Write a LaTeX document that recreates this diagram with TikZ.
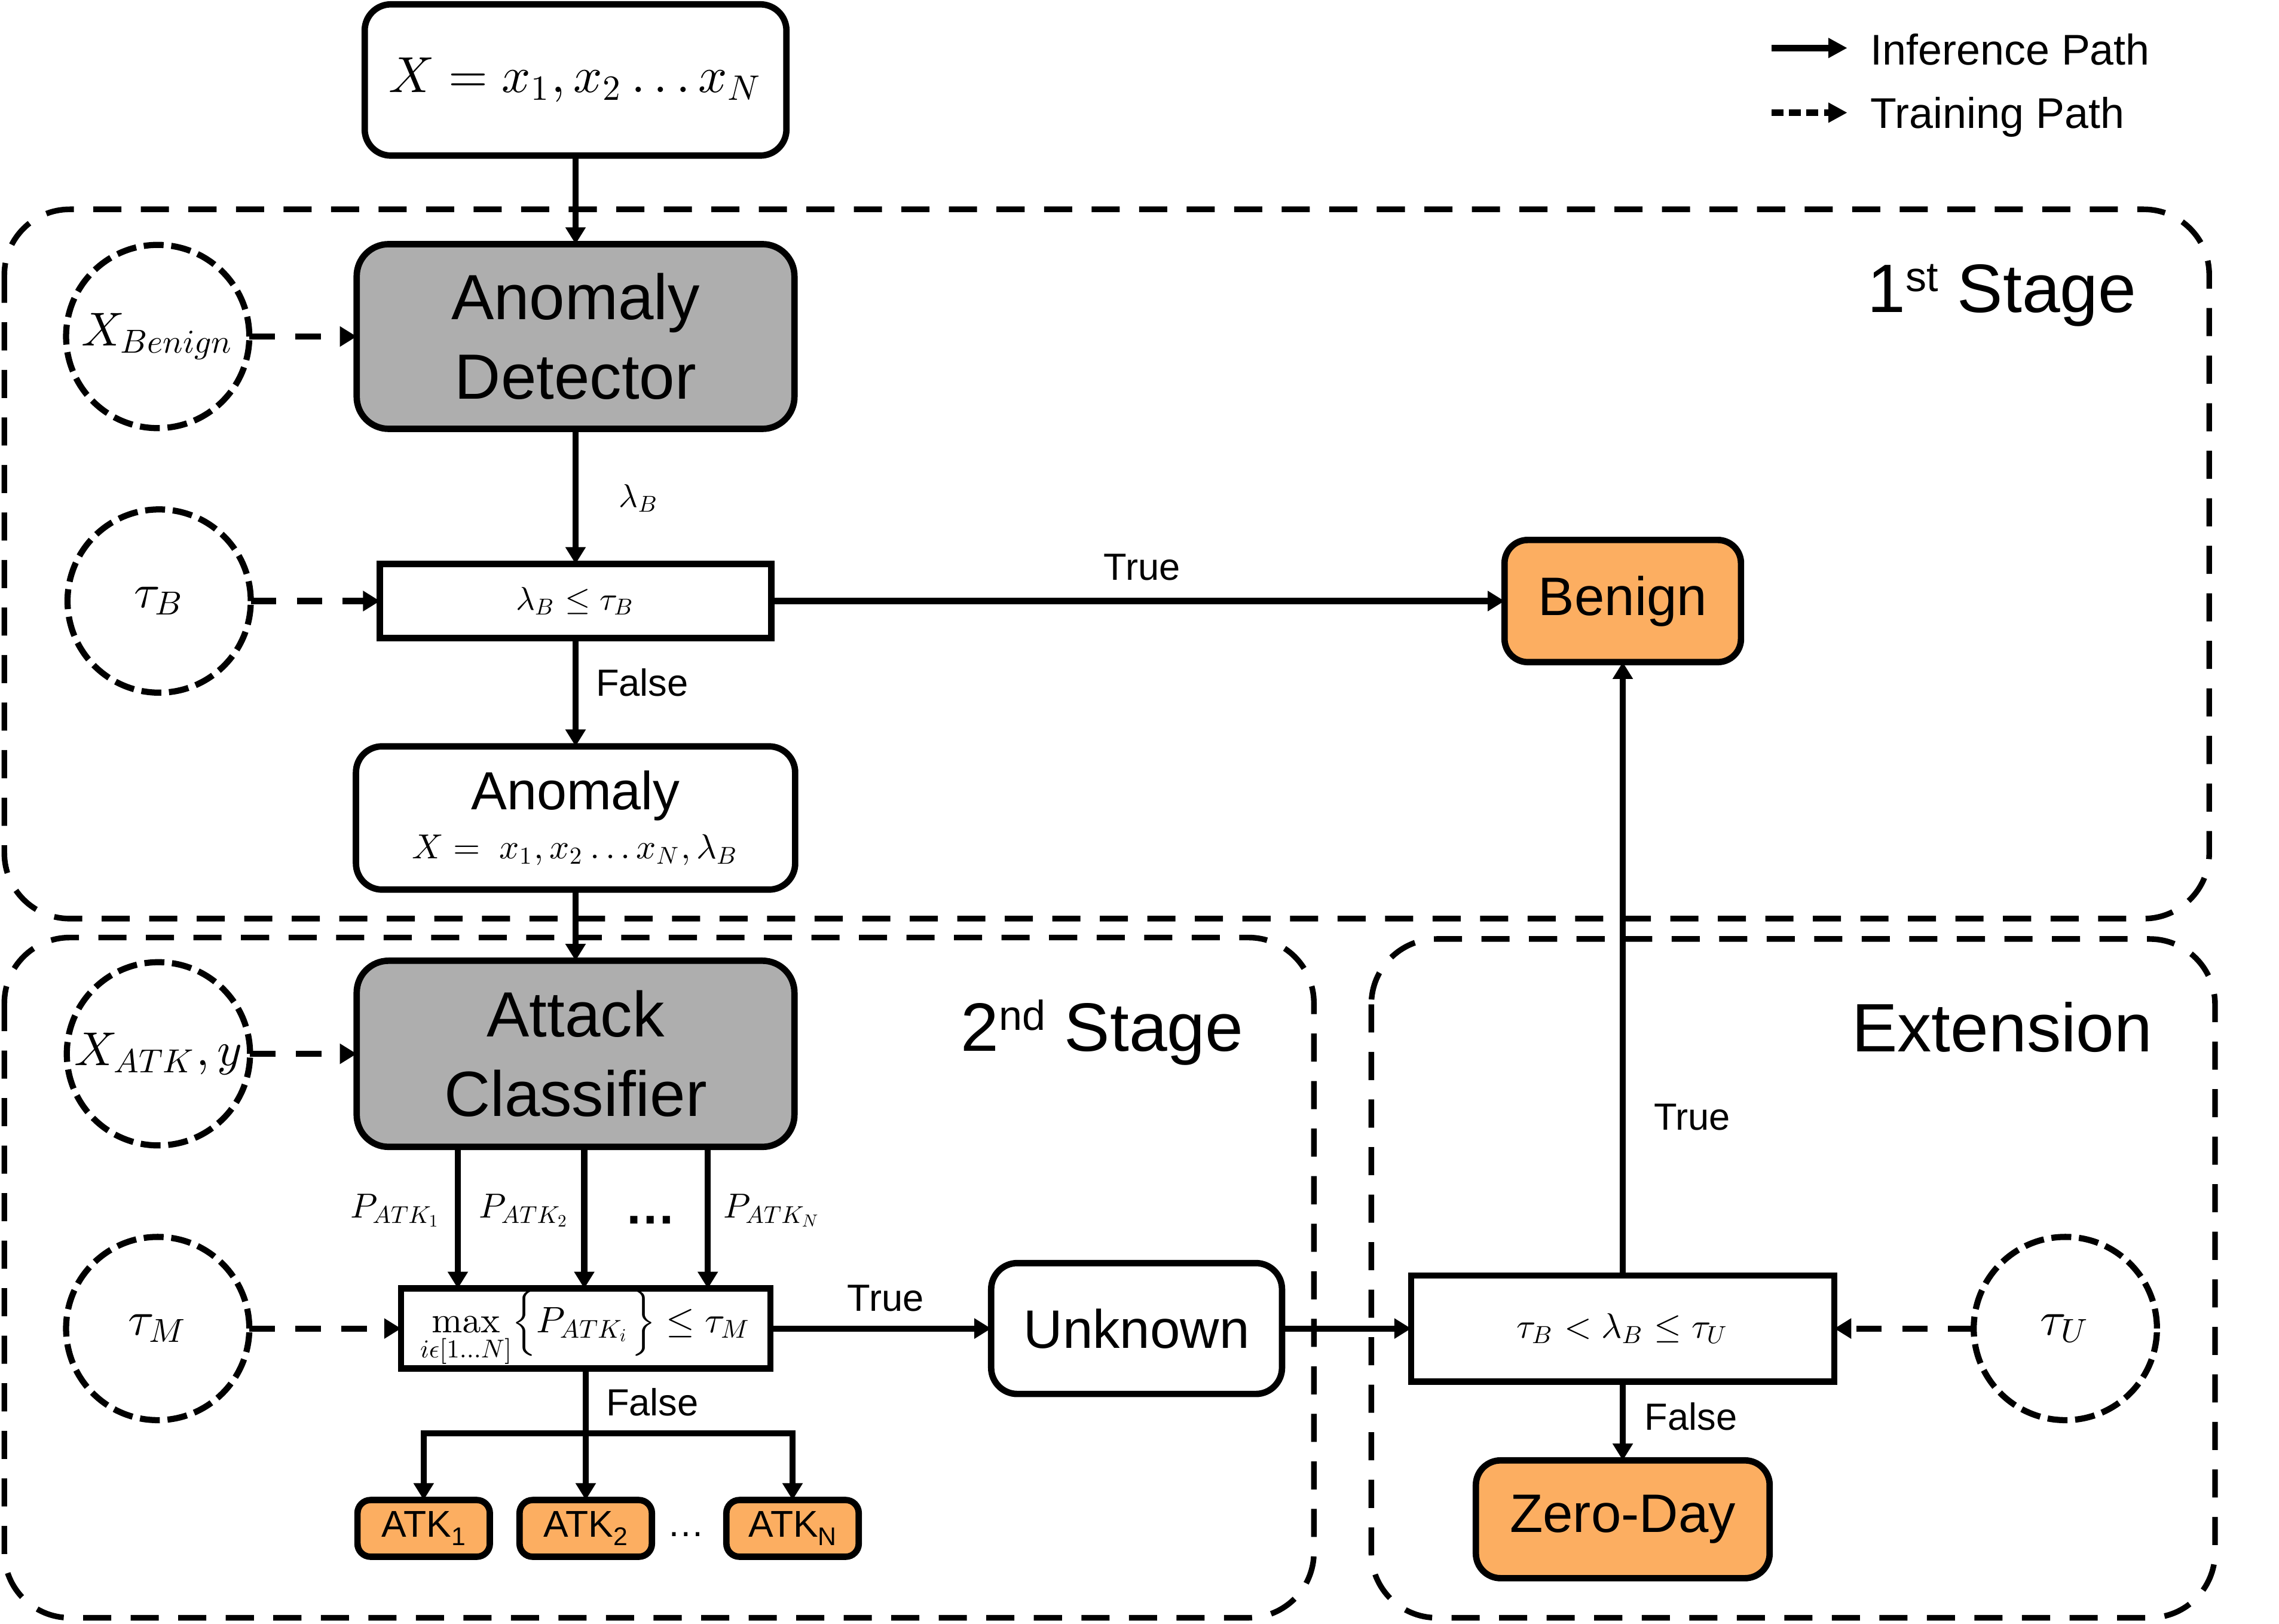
\documentclass[tikz,border=0pt]{standalone}
\usepackage[no-math]{fontspec}
\setmainfont{Liberation Sans}
\DeclareFontShape{OML}{cmm}{m}{it}{<->cmmi10}{}
\DeclareFontShape{OMS}{cmsy}{m}{n}{<->cmsy10}{}
\DeclareFontShape{OT1}{cmr}{m}{n}{<->cmr10}{}
\DeclareFontShape{OMX}{cmex}{m}{n}{<->cmex10}{}
\usetikzlibrary{arrows.meta}
\definecolor{boxgray}{RGB}{174,174,174}
\definecolor{boxorange}{RGB}{252,174,97}
\begin{document}
\begin{tikzpicture}[x=0.01cm, y=-0.01cm,
  every node/.style={inner sep=0pt, outer sep=0pt},
  box/.style={draw, line width=1.25pt, align=center},
  rbox/.style={box, rounded corners=#1},
  grp/.style={draw, line width=1.1pt, dash pattern=on 5.5pt off 3.8pt, rounded corners=0.45cm},
  circ/.style={circle, draw, line width=1.2pt, dash pattern=on 3.9pt off 1.5pt, minimum size=1.26cm, font=\fontsize{9.3}{11}\selectfont},
  arr/.style={line width=1.2pt, -{Triangle[length=3.3pt,width=3.8pt]}},
  plain/.style={line width=1.2pt},
  tarr/.style={arr, dash pattern=on 5pt off 4pt},
  lab/.style={anchor=base west, font=\fontsize{7.4}{9}\selectfont},
  big/.style={font=\fontsize{12.5}{15.6}\selectfont},
  mid/.style={font=\fontsize{10.6}{12}\selectfont},
  stage/.style={anchor=base west, font=\fontsize{13.4}{16}\selectfont},
  atk/.style={rbox=0.09cm, fill=boxorange, minimum width=0.91cm, minimum height=0.39cm, font=\fontsize{7.3}{8}\selectfont},
  leg/.style={line width=1.35pt, -{Triangle[length=3.7pt,width=3.7pt]}},
  legtxt/.style={anchor=base west, font=\fontsize{8.4}{10}\selectfont}
]
\useasboundingbox (0,0) rectangle (1568,1117);

% groups
\draw[grp] (3,144) rectangle (1520,632);
\draw[grp] (3,645) rectangle (904,1113);
\draw[grp] (943.5,646) rectangle (1524,1113);

\node[stage] (s1) at (1285,215) {1\raisebox{4.1pt}{\fontsize{8.2}{9}\selectfont st} Stage};
\node[stage] (s2) at (661,723) {2\raisebox{4.0pt}{\fontsize{8.2}{9}\selectfont nd} Stage};
\node[stage] (s3) at (1274,723.7) {Extension};

% legend
\coordinate (la1) at (1219,33);
\coordinate (lb1) at (1271,33);
\coordinate (la2) at (1219,77.5);
\coordinate (lb2) at (1271,77.5);
\draw[leg] (la1) -- (lb1);
\draw[leg, dash pattern=on 2.3pt off 1.1pt] (la2) -- (lb2);
\node[legtxt] (lt1) at (1287,44.5) {Inference Path};
\node[legtxt] (lt2) at (1287,88.4) {Training Path};

% nodes
\node[rbox=0.18cm, minimum width=2.90cm, minimum height=1.04cm, font=\fontsize{9.9}{12}\selectfont] (in) at (396,55) {$X = x_1, x_2 \ldots x_N$};
\node[rbox=0.22cm, fill=boxgray, minimum width=3.01cm, minimum height=1.27cm, big] (ad) at (396,231.5) {Anomaly\\Detector};
\node[circ] (xb) at (108.5,231.5) {$X_{Benign}$};
\node[circ] (tb) at (109.5,413.5) {$\tau_B$};
\node[box, minimum width=2.69cm, minimum height=0.51cm, font=\fontsize{6.4}{8}\selectfont] (th1) at (396,413.5) {$\lambda_B \le \tau_B$};
\node[rbox=0.16cm, fill=boxorange, minimum width=1.626cm, minimum height=0.84cm, mid] (benign) at (1116.5,413.5) {Benign};
\node[rbox=0.18cm, minimum width=3.02cm, minimum height=0.985cm, font=\fontsize{10.5}{9.6}\selectfont] (anom) at (396,562.75) {Anomaly\\{\fontsize{6.8}{9.6}\selectfont $X =\ x_1, x_2 \ldots x_N, \lambda_B$}};
\node[rbox=0.22cm, fill=boxgray, minimum width=3.01cm, minimum height=1.28cm, big] (ac) at (396,725) {Attack\\Classifier};
\node[circ] (xa) at (109,725) {$X_{ATK}, y$};
\node[circ] (tm) at (108.5,914) {$\tau_M$};
\node[box, minimum width=2.54cm, minimum height=0.55cm, font=\fontsize{7.2}{9}\selectfont] (mx) at (403,914) {$\displaystyle\max_{i\epsilon[1\ldots N]}\bigl\{P_{ATK_i}\bigr\}\le\tau_M$};
\node[rbox=0.18cm, minimum width=2.00cm, minimum height=0.90cm, mid] (unk) at (782,914) {Unknown};
\node[box, minimum width=2.91cm, minimum height=0.73cm, font=\fontsize{6.9}{8}\selectfont] (ext) at (1116.5,914) {$\tau_B < \lambda_B \le \tau_U$};
\node[circ] (tu) at (1421,914) {$\tau_U$};
\node[rbox=0.17cm, fill=boxorange, minimum width=2.02cm, minimum height=0.81cm, mid] (zd) at (1116.5,1045.25) {Zero-Day};
\node[atk] (atk1) at (291.5,1051.5) {ATK\raisebox{-1.6pt}{\fontsize{5}{5}\selectfont 1}};
\node[atk] (atk2) at (403,1051.5) {ATK\raisebox{-1.6pt}{\fontsize{5}{5}\selectfont 2}};
\node[atk] (atkn) at (545.3,1051.5) {ATK\raisebox{-1.6pt}{\fontsize{5}{5}\selectfont N}};
\node[anchor=base, font=\fontsize{7.3}{8}\selectfont] (dots2) at (472,1057) {…};

% connectors: inference
\draw[arr] (in) -- (ad);
\draw[arr] (ad) -- (th1);
\node[anchor=base west, font=\fontsize{6.4}{8}\selectfont] (lamb) at (426,349) {$\lambda_B$};
\draw[arr] (th1) -- (benign);
\node[lab] (t1) at (759.5,399) {True};
\draw[arr] (th1) -- (anom);
\node[lab] (f1) at (410,479) {False};
\draw[arr] (anom) -- (ac);

\coordinate (c1) at (315,800);
\coordinate (c2) at (402,800);
\coordinate (c3) at (487,800);
\draw[arr] (ac.south -| c1) -- (mx.north -| c1);
\draw[arr] (ac.south -| c2) -- (mx.north -| c2);
\draw[arr] (ac.south -| c3) -- (mx.north -| c3);
\node[anchor=base west, font=\fontsize{6.8}{8}\selectfont] (p1) at (241,838) {$P_{ATK_1}$};
\node[anchor=base west, font=\fontsize{6.8}{8}\selectfont] (p2) at (329.5,838) {$P_{ATK_2}$};
\node[anchor=base, font=\fontsize{10}{12}\selectfont\bfseries] (pd) at (447.5,842) {…};
\node[anchor=base west, font=\fontsize{6.8}{8}\selectfont] (pn) at (497.6,838) {$P_{ATK_N}$};

\draw[arr] (mx) -- (unk);
\node[lab] (t2) at (583,902) {True};
\draw[arr] (unk) -- (ext);
\draw[arr] (ext) -- (benign);
\node[lab] (t3) at (1138,777.5) {True};
\draw[arr] (ext) -- (zd);
\node[lab] (f3) at (1131.6,984) {False};

\coordinate (j) at (403,986);
\draw[plain] (mx.south) -- (j);
\node[lab] (f2) at (417,974) {False};
\draw[arr] (j) -| (atk1.north);
\draw[arr] (j) -- (atk2.north);
\draw[arr] (j) -| (atkn.north);

% connectors: training
\draw[tarr] (xb) -- (ad);
\draw[tarr] (tb) -- (th1);
\draw[tarr] (xa) -- (ac);
\draw[tarr] (tm) -- (mx);
\draw[tarr] (tu) -- (ext);
\end{tikzpicture}
\end{document}
